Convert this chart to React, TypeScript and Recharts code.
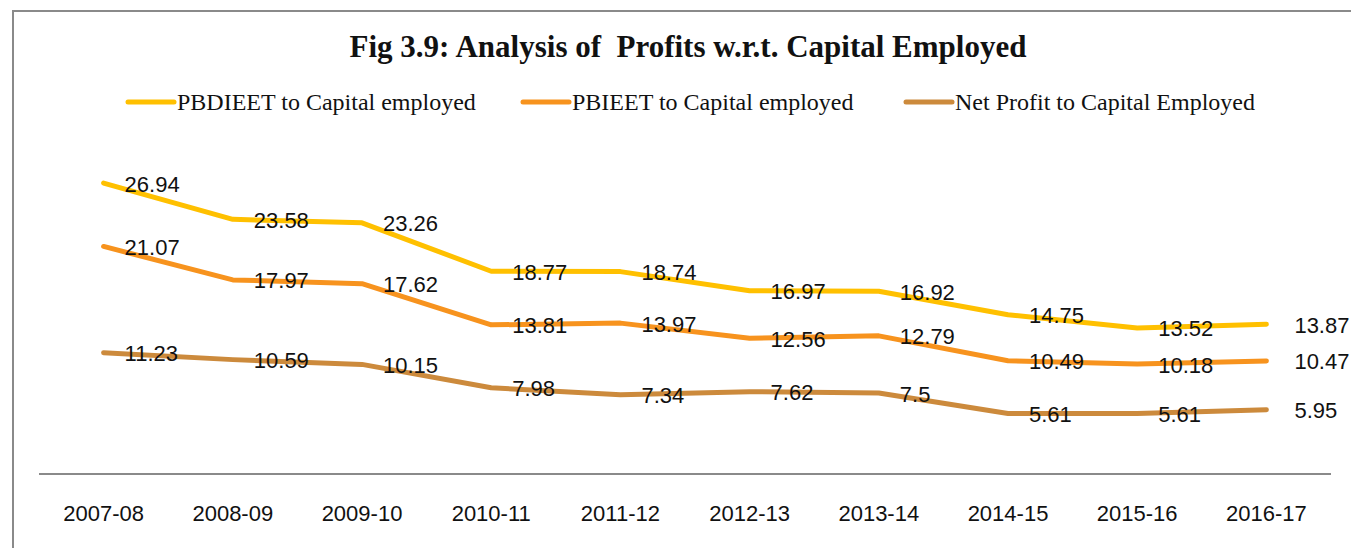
import React from 'react';
import { LineChart, Line, XAxis, YAxis, LabelList, Legend } from 'recharts';

const years = ['2007-08', '2008-09', '2009-10', '2010-11', '2011-12', '2012-13', '2013-14', '2014-15', '2015-16', '2016-17'];
const pbdieet = [26.94, 23.58, 23.26, 18.77, 18.74, 16.97, 16.92, 14.75, 13.52, 13.87];
const pbieet = [21.07, 17.97, 17.62, 13.81, 13.97, 12.56, 12.79, 10.49, 10.18, 10.47];
const netProfit = [11.23, 10.59, 10.15, 7.98, 7.34, 7.62, 7.5, 5.61, 5.61, 5.95];

const seriesNames = ['PBDIEET to Capital employed', 'PBIEET to Capital employed', 'Net Profit to Capital Employed'];
const seriesKeys = ['pbdieet', 'pbieet', 'net'];
const seriesColors = ['#FFC000', '#F7931E', '#CC8A3C'];

const data = years.map((y, i) => ({ year: y, pbdieet: pbdieet[i], pbieet: pbieet[i], net: netProfit[i] }));

const W = 1351;
const H = 548;

const makeLabel = (props: any) => {
  const { x, y, value, index } = props;
  const dx = index === years.length - 1 ? 28 : 21;
  return (
    <text
      x={x + dx}
      y={y + 1}
      dominantBaseline="central"
      fontSize={22}
      fontFamily="'Liberation Sans', Arial, sans-serif"
      fill="#111"
    >
      {value}
    </text>
  );
};

const legendLefts = [125, 520, 903];

const LegendContent = () => (
  <div style={{ position: 'relative', width: W, height: 30 }}>
    {seriesNames.map((n, i) => (
      <div
        key={n}
        style={{
          position: 'absolute',
          left: legendLefts[i],
          top: 0,
          height: 30,
          display: 'flex',
          alignItems: 'center',
          whiteSpace: 'nowrap',
        }}
      >
        <svg width={52} height={8} style={{ display: 'block' }}>
          <line x1={3} y1={4} x2={49} y2={4} stroke={seriesColors[i]} strokeWidth={5} strokeLinecap="round" />
        </svg>
        <span style={{ fontFamily: "'Liberation Serif', 'Times New Roman', serif", fontSize: 24, color: '#111', lineHeight: '30px' }}>{n}</span>
      </div>
    ))}
  </div>
);

export default function App() {
  return (
    <div style={{ position: 'absolute', left: 0, top: 0, width: W, height: H, overflow: 'hidden', background: '#fff' }}>
      <div
        style={{
          position: 'absolute',
          left: 12,
          top: 10,
          width: W + 50,
          height: H + 50,
          borderLeft: '2px solid #8a8a8a',
          borderTop: '2px solid #8a8a8a',
        }}
      />
      <div
        style={{
          position: 'absolute',
          left: 0,
          top: 28,
          width: 1376,
          textAlign: 'center',
          fontFamily: "'Liberation Serif', 'Times New Roman', serif",
          fontWeight: 'bold',
          fontSize: 31,
          lineHeight: '38px',
          color: '#111',
          whiteSpace: 'pre',
        }}
      >
        {'Fig 3.9: Analysis of  Profits w.r.t. Capital Employed'}
      </div>
      <div style={{ position: 'absolute', left: 0, top: 0 }}>
        <LineChart width={W} height={H} data={data} margin={{ top: 120, right: 20, bottom: 0, left: 39 }}>
          <XAxis
            dataKey="year"
            axisLine={{ stroke: '#8a8a8a', strokeWidth: 2 }}
            tickLine={false}
            tickSize={0}
            tickMargin={31}
            height={74}
            interval={0}
            padding={{ left: 64.6, right: 64.6 }}
            tick={{ fontSize: 22, fontFamily: "'Liberation Sans', Arial, sans-serif", fill: '#111' }}
          />
          <YAxis hide domain={[0, 30]} />
          <Legend
            verticalAlign="top"
            content={<LegendContent />}
            wrapperStyle={{ top: 87, left: 0, width: W, height: 30 }}
          />
          {seriesKeys.map((k, i) => (
            <Line
              key={k}
              dataKey={k}
              name={seriesNames[i]}
              stroke={seriesColors[i]}
              strokeWidth={5}
              strokeLinecap="round"
              strokeLinejoin="round"
              dot={false}
              activeDot={false}
              type="linear"
              isAnimationActive={false}
            >
              <LabelList dataKey={k} content={makeLabel} />
            </Line>
          ))}
        </LineChart>
      </div>
    </div>
  );
}
